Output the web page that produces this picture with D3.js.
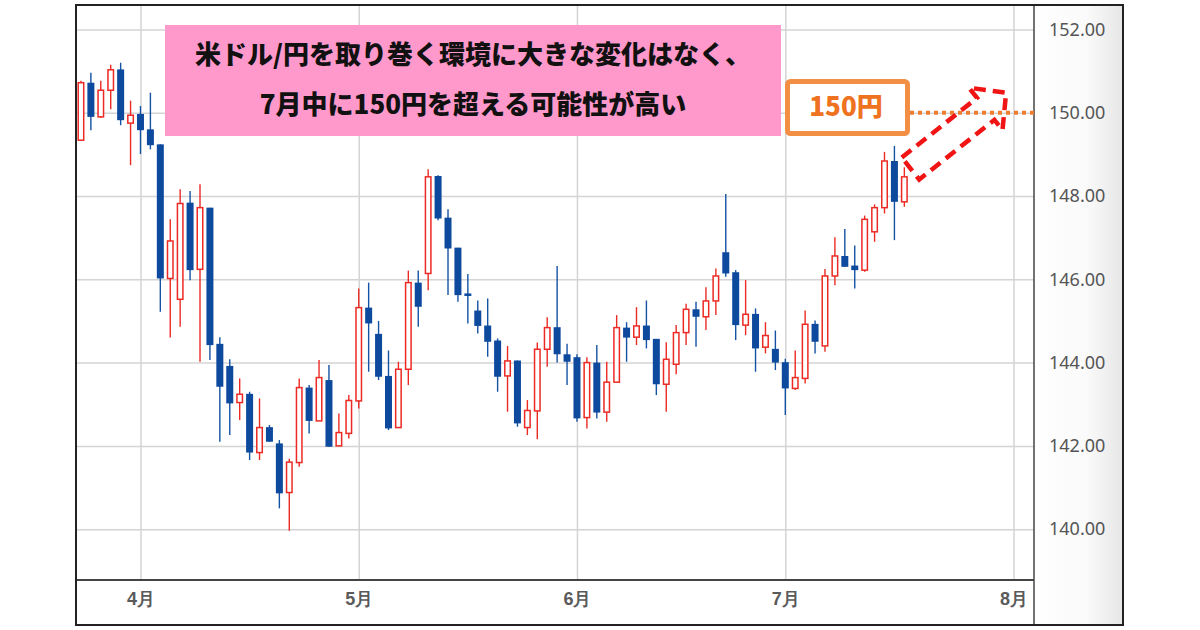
<!DOCTYPE html>
<html>
<head>
<meta charset="utf-8">
<script src="https://cdn.jsdelivr.net/npm/d3@7"></script>
<style>
  body { margin: 0; background: #fff; }
  svg { display: block; font-family: 'Noto Sans CJK JP', 'Noto Sans', sans-serif; }
</style>
</head>
<body>
<svg width="1200" height="630">
  <defs>
    <linearGradient id="panel" x1="0" x2="1" y1="0" y2="0">
      <stop offset="0" stop-color="#ffffff"></stop>
      <stop offset="0.6" stop-color="#fafafa"></stop>
      <stop offset="1" stop-color="#e6e6e6"></stop>
    </linearGradient>
  </defs>
  <g id="vis"></g>
</svg>
<script>
// USD/JPY daily candles, 2025-03-24 .. 2025-07-17 (weekdays)
const opens = [149.34, 150.72, 149.90, 150.54, 151.04, 149.75, 149.97, 149.60, 149.24, 146.02,
  145.52, 147.84, 146.24, 147.72, 144.45, 143.92, 143.04, 143.25, 141.84, 142.45,
  142.06, 140.88, 141.60, 143.40, 142.60, 143.58, 142.00, 142.30, 143.08, 145.32,
  144.69, 143.68, 142.44, 143.84, 145.92, 146.14, 148.48, 147.48, 146.76, 145.66,
  145.25, 144.89, 144.53, 143.68, 144.05, 142.44, 142.84, 144.32, 144.85, 144.20,
  144.13, 142.68, 144.00, 142.81, 143.53, 144.84, 144.61, 144.89, 144.57, 143.48,
  143.96, 144.72, 145.28, 145.10, 145.48, 146.65, 146.17, 144.90, 145.17, 144.37,
  144.33, 144.01, 143.38, 143.62, 144.93, 144.40, 146.08, 146.56, 146.33, 146.22,
  147.14, 147.72, 148.84, 147.86]
const highs = [150.77, 150.96, 150.77, 151.15, 151.20, 150.29, 150.16, 150.48, 149.24, 147.44,
  148.16, 148.12, 148.28, 147.72, 144.61, 144.08, 143.62, 143.30, 143.14, 142.50,
  142.14, 141.69, 143.62, 143.46, 144.06, 143.94, 142.78, 143.22, 145.78, 145.92,
  145.00, 144.29, 144.02, 146.21, 146.21, 148.64, 148.50, 147.68, 146.76, 146.13,
  145.49, 145.54, 144.58, 144.40, 144.05, 143.10, 144.48, 145.09, 146.32, 144.45,
  144.20, 144.13, 144.42, 144.02, 145.14, 144.97, 145.33, 145.49, 144.57, 144.49,
  144.90, 145.41, 145.46, 145.81, 146.26, 148.05, 146.22, 145.98, 145.30, 144.97,
  144.77, 144.09, 144.29, 145.25, 145.01, 146.25, 147.01, 147.21, 146.81, 147.53,
  147.80, 149.06, 149.20, 148.69]
const lows = [149.34, 149.58, 149.87, 150.08, 149.70, 148.74, 149.01, 149.12, 145.22, 144.60,
  144.86, 145.98, 144.02, 144.06, 142.10, 142.26, 142.62, 141.66, 141.66, 142.10,
  140.50, 139.96, 141.50, 142.30, 142.60, 141.98, 142.00, 142.18, 142.90, 143.78,
  143.58, 142.38, 142.44, 143.46, 144.86, 145.74, 147.42, 145.62, 145.46, 144.94,
  144.70, 144.14, 143.30, 142.82, 142.46, 142.26, 142.16, 143.90, 144.00, 143.46,
  142.58, 142.42, 142.66, 142.58, 143.53, 144.02, 144.42, 144.34, 143.22, 142.82,
  143.72, 144.42, 144.38, 144.78, 145.14, 146.06, 144.54, 144.66, 143.78, 144.22,
  143.82, 142.74, 143.34, 143.50, 144.22, 144.26, 145.86, 146.30, 145.78, 146.18,
  146.90, 147.58, 146.94, 147.74]
const closes = [150.72, 149.90, 150.54, 151.03, 149.82, 149.94, 149.58, 149.22, 146.02, 146.92,
  147.82, 146.22, 147.72, 144.42, 143.42, 143.02, 143.24, 141.84, 142.44, 142.10,
  140.86, 141.61, 143.40, 142.60, 143.64, 141.98, 142.32, 143.09, 145.32, 144.94,
  143.66, 142.42, 143.84, 145.92, 145.34, 148.46, 147.46, 146.74, 145.62, 145.60,
  144.88, 144.50, 143.66, 144.04, 142.54, 142.85, 144.32, 144.84, 144.20, 144.02,
  142.66, 144.00, 142.80, 143.53, 144.84, 144.60, 144.88, 144.54, 143.48, 144.08,
  144.72, 145.28, 145.10, 145.48, 146.08, 146.14, 144.90, 145.16, 144.34, 144.65,
  144.00, 143.38, 143.64, 144.92, 144.50, 146.08, 146.56, 146.30, 146.22, 147.44,
  147.72, 148.84, 147.86, 148.46]

const monthTicks = ['2025-04-01', '2025-05-01', '2025-06-02', '2025-07-01', '2025-08-01']
const monthLabels = ['4月', '5月', '6月', '7月', '8月']
const priceTicks = [140, 142, 144, 146, 148, 150, 152]
const targetPrice = 150
const targetLabel = '150円'
const titleLines = ['米ドル/円を取り巻く環境に大きな変化はなく、', '7月中に150円を超える可能性が高い']

const svg = d3.select('svg')
const vis = svg.select('#vis')
const plot = { left: 76, top: 5, right: 1034, bottom: 580, outerRight: 1123, outerBottom: 625 }

// weekday calendar, first candle to the 8月 tick
const parse = d3.utcParse('%Y-%m-%d')
const days = d3.utcDay.range(parse('2025-03-24'), parse('2025-08-02'))
  .filter(d => d.getUTCDay() !== 0 && d.getUTCDay() !== 6)
const dayIndex = s => days.findIndex(d => +d === +parse(s))

const xScale = d3.scaleLinear()
  .domain([-0.5, 96.07])
  .range([plot.left, plot.right])

const yScale = d3.scaleLinear()
  .domain([138.78, 152.586])
  .range([plot.bottom, plot.top])

const candles = opens.map((o, i) => ({ i: i, o: o, h: highs[i], l: lows[i], c: closes[i] }))

// right panel background
vis.append('rect')
  .attr('x', plot.right)
  .attr('y', plot.top)
  .attr('width', plot.outerRight - plot.right)
  .attr('height', plot.outerBottom - plot.top)
  .style('fill', 'url(#panel)')

// grid
vis.append('g')
  .attr('class', 'grid-y')
  .attr('transform', `translate(${plot.left},0)`)
  .call(d3.axisRight(yScale).tickValues(priceTicks).tickSize(plot.right - plot.left).tickFormat(''))
  .call(g => g.select('.domain').remove())
  .selectAll('line')
  .style('stroke', '#d4d4d4')
  .style('stroke-width', 1.5)

vis.append('g')
  .attr('class', 'grid-x')
  .attr('transform', `translate(0,${plot.top})`)
  .call(d3.axisBottom(xScale).tickValues(monthTicks.map(dayIndex)).tickSize(plot.bottom - plot.top).tickFormat(''))
  .call(g => g.select('.domain').remove())
  .selectAll('line')
  .style('stroke', '#d4d4d4')
  .style('stroke-width', 1.5)

// wicks
vis.append('g')
  .selectAll('line')
  .data(candles)
  .join('line')
  .attr('x1', d => xScale(d.i))
  .attr('x2', d => xScale(d.i))
  .attr('y1', d => yScale(d.h))
  .attr('y2', d => yScale(d.l))
  .style('stroke', d => d.c >= d.o ? '#ec2a24' : '#1452a3')
  .style('stroke-width', 1.4)

// bodies
vis.append('g')
  .selectAll('rect')
  .data(candles)
  .join('rect')
  .attr('x', d => xScale(d.i) - (d.c >= d.o ? 2.75 : 3.5))
  .attr('width', d => d.c >= d.o ? 5.5 : 7)
  .attr('y', d => yScale(Math.max(d.o, d.c)))
  .attr('height', d => Math.max(1.5, Math.abs(yScale(d.o) - yScale(d.c))))
  .style('fill', d => d.c >= d.o ? '#ffffff' : '#0d4a9e')
  .style('stroke', d => d.c >= d.o ? '#ec2a24' : 'none')
  .style('stroke-width', 1.5)

// right axis
const yAxis = vis.append('g')
  .attr('transform', `translate(${plot.right},0)`)
  .call(d3.axisRight(yScale).tickValues(priceTicks).tickFormat(d3.format('.2f')).tickSize(0).tickPadding(15))
yAxis.select('.domain').remove()
yAxis.selectAll('text')
  .style('font-family', "'Noto Sans', sans-serif")
  .style('font-size', '18px')
  .style('fill', '#555')

// bottom axis
const xAxis = vis.append('g')
  .attr('transform', `translate(0,${plot.bottom})`)
  .call(d3.axisBottom(xScale).tickValues(monthTicks.map(dayIndex)).tickFormat((d, i) => monthLabels[i]).tickSize(0).tickPadding(12))
xAxis.select('.domain').remove()
xAxis.selectAll('text')
  .style('font-size', '18px')
  .style('font-weight', 700)
  .style('fill', '#5a5a5a')

// frame and separators
vis.append('line')
  .attr('x1', plot.right).attr('x2', plot.right)
  .attr('y1', plot.top).attr('y2', plot.outerBottom)
  .style('stroke', '#444').style('stroke-width', 1.5)
vis.append('line')
  .attr('x1', plot.left).attr('x2', plot.right)
  .attr('y1', plot.bottom).attr('y2', plot.bottom)
  .style('stroke', '#444').style('stroke-width', 2)
vis.append('rect')
  .attr('x', plot.left).attr('y', plot.top)
  .attr('width', plot.outerRight - plot.left)
  .attr('height', plot.outerBottom - plot.top)
  .style('fill', 'none').style('stroke', '#222').style('stroke-width', 2)

// pink message box
vis.append('rect')
  .attr('x', 165).attr('y', 25)
  .attr('width', 616).attr('height', 111)
  .style('fill', '#ff99cc')
vis.append('g')
  .selectAll('text')
  .data(titleLines)
  .join('text')
  .attr('x', 473)
  .attr('y', (d, i) => 55 + i * 50)
  .attr('dy', '0.35em')
  .style('text-anchor', 'middle')
  .style('font-size', '26px')
  .style('font-weight', 900)
  .style('fill', '#111')
  .text(d => d)

// 150円 target: dotted line, label box
const ty = yScale(targetPrice)
vis.append('line')
  .attr('x1', 910).attr('x2', plot.right)
  .attr('y1', ty).attr('y2', ty)
  .style('stroke', '#ed7d31')
  .style('stroke-width', 4)
  .style('stroke-dasharray', '4,4')
vis.append('rect')
  .attr('x', 787.5).attr('y', 81.5)
  .attr('width', 120).attr('height', 52)
  .attr('rx', 3)
  .style('fill', '#fff')
  .style('stroke', '#f38f45')
  .style('stroke-width', 5)
vis.append('text')
  .attr('x', 846).attr('y', 107)
  .attr('dy', '0.35em')
  .style('text-anchor', 'middle')
  .style('font-size', '26px')
  .style('font-weight', 900)
  .style('fill', '#ee7220')
  .text(targetLabel)

// dashed block arrow towards 150
vis.append('path')
  .attr('transform', 'translate(910.5,168.5) rotate(-38.4)')
  .attr('d', 'M0,-14 L96,-14 L96,-27 L122,0 L96,27 L96,14 L0,14 Z')
  .style('fill', 'none')
  .style('stroke', '#f01414')
  .style('stroke-width', 4.5)
  .style('stroke-dasharray', '12,7')
</script>
</body>
</html>
